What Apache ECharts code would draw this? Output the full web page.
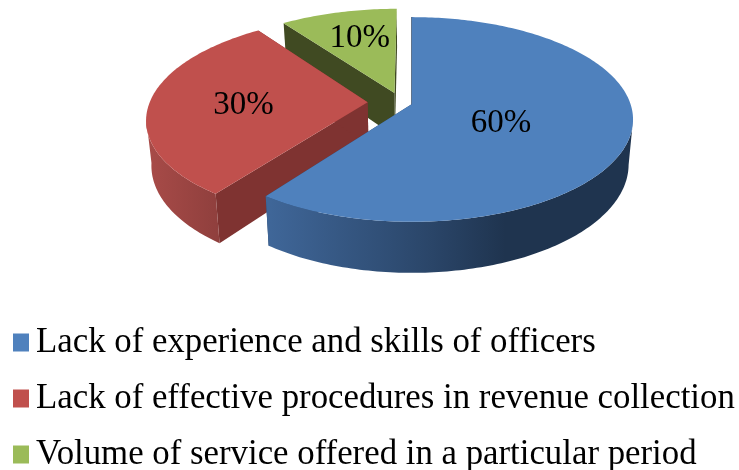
<!DOCTYPE html>
<html>
<head>
<meta charset="utf-8">
<script src="https://cdn.jsdelivr.net/npm/echarts@6/dist/echarts.min.js"></script>
<style>
  html, body { margin: 0; padding: 0; background: #fff; }
  #main { width: 739px; height: 470px; }
</style>
</head>
<body>
<div id="main"></div>
<script>
// data
var categories = [
  'Lack of experience and skills of officers',
  'Lack of effective procedures in revenue collection',
  'Volume of service offered in a particular period'
];
var values = [60, 30, 10];

// look of the 3d pie
var topColors = ['#4f81bd', '#c0504d', '#9bbb59'];
var cutColors = ['#2a4568', '#7f3331', '#404a22'];
var wallStops = [
  [[0, '#3f6698'], [0.45, '#2a4568'], [0.65, '#1f344f'], [1, '#1f344f']],
  [[0, '#a84b48'], [1, '#8f3f3d']],
  [[0, '#404a22'], [1, '#404a22']]
];
var wallRange = [[270, 632], [147, 220], [285, 395]];
var explode = [[0, 0], [-44.5, 4], [-17.8, 24.5]]; // slice offset on the pie plane
var labelRadius = [0.42, 0.56, 0.68];
var labelShift = [[0, 6], [-2, 3], [5, 2]];

var cx = 412, cy = 104, R = 218.5;
var squash = 100 / R, persp = 0.151 / R;
var total = values.reduce(function (a, b) { return a + b; }, 0);
// the outer wall only faces the camera between these two angles
var wallFrom = 98.7, wallTo = 261.3;

// pie plane -> screen, angle runs clockwise from 12 o'clock
function project(px, pz, lower) {
  var s = 1 / (1 + persp * pz);
  var x = cx + px * s;
  var y = cy - pz * squash * s;
  if (lower) {
    x = cx + (x - cx) * 0.98;
    y = y + 44 + 0.06 * (y - cy);
  }
  return [x, y];
}

function rimPoint(i, deg, r, lower) {
  var a = deg * Math.PI / 180;
  return project(explode[i][0] + r * Math.sin(a), explode[i][1] + r * Math.cos(a), lower);
}

function renderSlice(params, api) {
  var i = params.seriesIndex;
  var start = 0;
  for (var k = 0; k < i; k++) start += values[k] / total * 360;
  var end = start + api.value(0) / total * 360;

  var top = [], wall = [], under = [];
  for (var d = start; d <= end + 0.001; d += 1) {
    top.push(rimPoint(i, d, R));
    if (d >= wallFrom && d <= wallTo) {
      wall.push(rimPoint(i, d, R));
      under.unshift(rimPoint(i, d, R, true));
    }
  }
  var apex = rimPoint(i, 0, 0), apexLow = rimPoint(i, 0, 0, true);
  var range = wallRange[i];
  var mid = (start + end) / 2;
  var lp = rimPoint(i, mid, R * labelRadius[i]);

  function cutFace(deg) {
    return {
      type: 'polygon',
      shape: { points: [apex, rimPoint(i, deg, R), rimPoint(i, deg, R, true), apexLow] },
      // the blue cut at 12 o'clock is nearly edge on, only a hairline of it shows
      style: { fill: cutColors[i], stroke: cutColors[i], lineWidth: deg === 0 ? 1.5 : 0 }
    };
  }

  var children = [cutFace(start), cutFace(end)];
  if (wall.length > 1) {
    children.push({
      type: 'polygon',
      shape: { points: wall.concat(under) },
      style: {
        fill: new echarts.graphic.LinearGradient(range[0], 0, range[1], 0, wallStops[i].map(function (s) {
          return { offset: s[0], color: s[1] };
        }), true)
      }
    });
  }
  children.push({
    type: 'polygon',
    shape: { points: [apex].concat(top) },
    style: { fill: topColors[i] }
  });
  children.push({
    type: 'text',
    x: lp[0] + labelShift[i][0],
    y: lp[1] + labelShift[i][1],
    style: {
      text: Math.round(api.value(0) / total * 100) + '%',
      font: '33px "Liberation Serif", serif',
      fill: '#000',
      align: 'center',
      verticalAlign: 'middle'
    }
  });

  return { type: 'group', children: children };
}

var myChart = echarts.init(document.getElementById('main'), null, { renderer: 'canvas' });

var option = {
  animation: false,
  backgroundColor: '#fff',
  color: topColors,
  legend: {
    orient: 'vertical',
    left: 13,
    top: 325,
    height: 200,
    data: categories,
    icon: 'rect',
    itemWidth: 16,
    itemHeight: 18,
    itemGap: 21,
    padding: 0,
    selectedMode: false,
    textStyle: {
      fontFamily: '"Liberation Serif", serif',
      fontSize: 34.8,
      color: '#000',
      padding: [0, 0, 0, 2]
    }
  },
  series: categories.map(function (name, i) {
    return {
      name: name,
      type: 'custom',
      coordinateSystem: 'none',
      z: 10 - i,
      silent: true,
      renderItem: renderSlice,
      data: [[values[i]]]
    };
  })
};

myChart.setOption(option);
</script>
</body>
</html>
